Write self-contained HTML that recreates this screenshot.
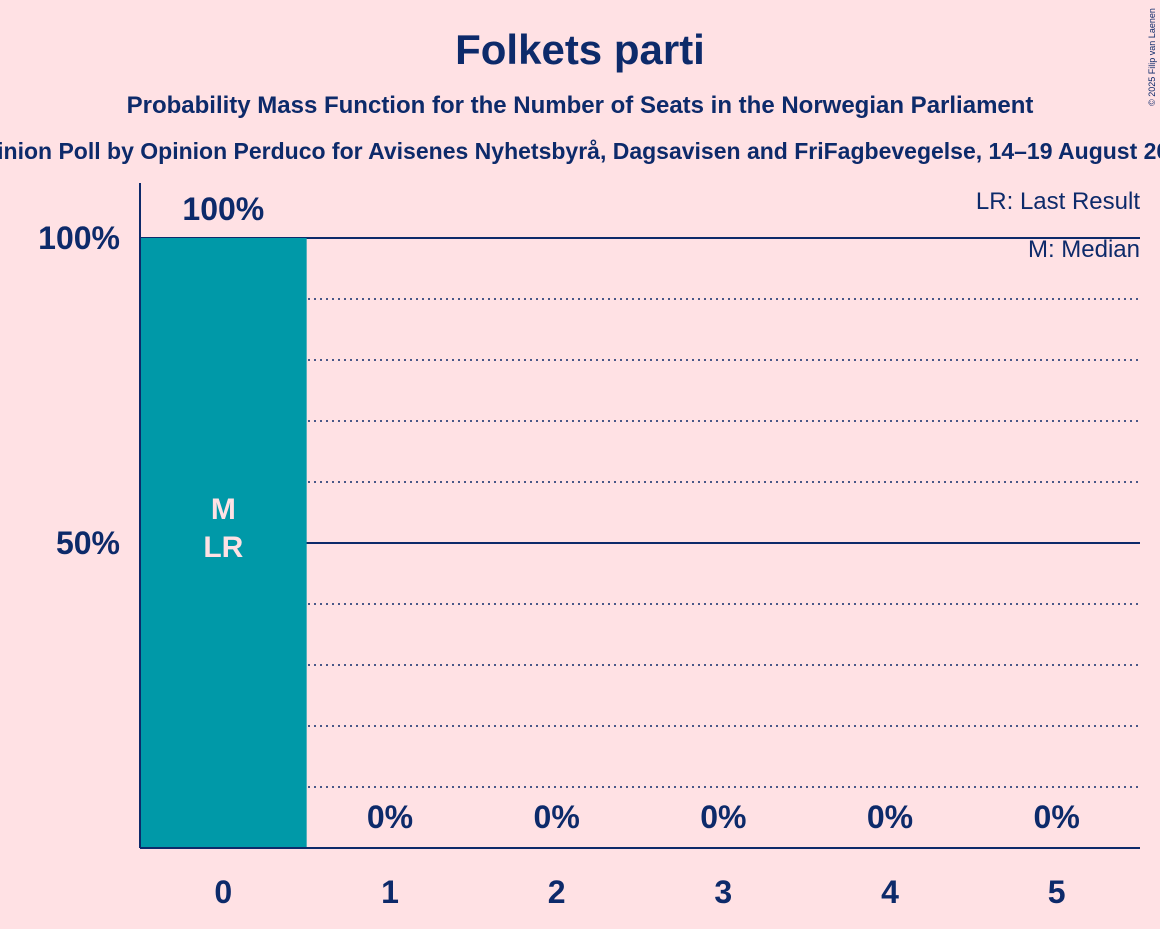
<!DOCTYPE html>
<html><head><meta charset="utf-8"><style>
body{margin:0;background:#ffe1e4;}
svg text{font-family:"Liberation Sans",sans-serif;font-weight:bold;fill:#0d2a6a;}
</style></head><body>
<svg id="c" width="1160" height="924">
<rect width="1160" height="924" fill="#ffe1e4"/>
<text x="580" y="64" font-size="42" text-anchor="middle">Folkets parti</text>
<text x="580" y="113" font-size="24" text-anchor="middle">Probability Mass Function for the Number of Seats in the Norwegian Parliament</text>
<text x="580" y="159" font-size="23" text-anchor="middle">Opinion Poll by Opinion Perduco for Avisenes Nyhetsbyrå, Dagsavisen and FriFagbevegelse, 14–19 August 2025</text>
<text x="1155" y="57" font-size="9" transform="rotate(-90 1155 57)" text-anchor="middle" style="font-weight:normal">© 2025 Filip van Laenen</text>
<g id="grid"></g><g id="bars"></g><g id="labels"></g>
<line x1="140" y1="183" x2="140" y2="848" stroke="#0d2a6a" stroke-width="2"/>
<line x1="140" y1="848" x2="1140" y2="848" stroke="#0d2a6a" stroke-width="2"/>
<text x="1140" y="209" font-size="24" text-anchor="end" style="font-weight:normal">LR: Last Result</text>
<text x="1140" y="257" font-size="24" text-anchor="end" style="font-weight:normal">M: Median</text>
</svg>
<script>
const categories=[0,1,2,3,4,5];
const values=[100,0,0,0,0,0];
const valueLabels=["100%","0%","0%","0%","0%","0%"];
const yTicks=[50,100];
const ns="http://www.w3.org/2000/svg";
const x0=140,x1=1140,y0=848,yTop=238;
const bw=(x1-x0)/categories.length;
const y=v=>y0-(y0-yTop)*v/100;
const xc=i=>x0+bw*(i+0.5);
function mk(t,a,p){const e=document.createElementNS(ns,t);for(const k in a)e.setAttribute(k,a[k]);document.getElementById(p).appendChild(e);return e;}
for(let v=10;v<=100;v+=10){
 const solid=yTicks.includes(v);
 const l=mk('line',{x1:x0,x2:x1,y1:y(v),y2:y(v),stroke:'#0d2a6a','stroke-width':solid?2:1.5,'stroke-dasharray':solid?'':'2,4'},'grid');
 
 
}
yTicks.forEach(v=>{
 const t=mk('text',{x:120,y:y(v)+11,'font-size':32,'text-anchor':'end'},'labels');t.textContent=v+'%';
 
 
});
categories.forEach((c,i)=>{
 const h=y0-y(values[i]);
 if(h>0){const r=mk('rect',{x:x0+bw*i,y:y(values[i]),width:bw,height:h,fill:'#0099a8'},'bars');
 
 }
 const vy=values[i]>50?y(values[i])-18:y0-20;
 const t=mk('text',{x:xc(i),y:vy,'font-size':32,'text-anchor':'middle'},'labels');t.textContent=valueLabels[i];
 
 
 const xt=mk('text',{x:xc(i),y:903,'font-size':32,'text-anchor':'middle'},'labels');xt.textContent=c;
 
 
});
['M','LR'].forEach((s,k)=>{const t=mk('text',{x:xc(0),y:519+k*38,'font-size':30,'text-anchor':'middle',style:'fill:#ffe1e4'},'labels');t.textContent=s;
 
 });
</script>
</body></html>
